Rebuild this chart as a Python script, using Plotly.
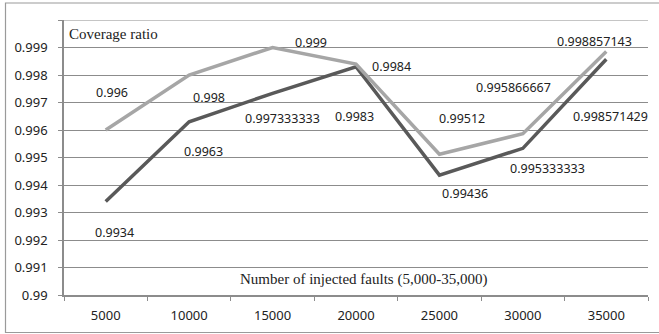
import plotly.graph_objects as go

categories = ["5000", "10000", "15000", "20000", "25000", "30000", "35000"]
light_values = [0.996, 0.998, 0.999, 0.9984, 0.99512, 0.995866667, 0.998857143]
dark_values = [0.9934, 0.9963, 0.997333333, 0.9983, 0.99436, 0.995333333, 0.998571429]
light_labels = ["0.996", "0.998", "0.999", "0.9984", "0.99512", "0.995866667", "0.998857143"]
dark_labels = ["0.9934", "0.9963", "0.997333333", "0.9983", "0.99436", "0.995333333", "0.998571429"]
y_tick_values = [0.99, 0.991, 0.992, 0.993, 0.994, 0.995, 0.996, 0.997, 0.998, 0.999, 1.0]
y_tick_labels = ["0.99", "0.991", "0.992", "0.993", "0.994", "0.995", "0.996", "0.997", "0.998", "0.999", ""]

# label offsets (pixels) mimicking the original label placement
light_shift = [(6, 38), (20, -22), (38, 5), (35, -2), (23, 36), (-9, 46), (-12, 10)]
dark_shift = [(9, -31), (14, -30), (10, -25), (-2, -50), (26, -18), (25, -20), (4, -57)]

LIGHT = "#a6a6a6"
DARK = "#595959"
GRID = "#8c8c8c"

fig = go.Figure()
fig.add_trace(go.Scatter(x=categories, y=dark_values, mode="lines",
                         line=dict(color=DARK, width=3.5), hoverinfo="skip"))
fig.add_trace(go.Scatter(x=categories, y=light_values, mode="lines",
                         line=dict(color=LIGHT, width=3.5), hoverinfo="skip"))

label_font = dict(family="Noto Sans, sans-serif", size=12.5, color="#222222")
for i, (v, t, (dx, dy)) in enumerate(zip(light_values, light_labels, light_shift)):
    fig.add_annotation(x=i, y=v, text=t, showarrow=False, xshift=dx, yshift=dy, font=label_font)
for i, (v, t, (dx, dy)) in enumerate(zip(dark_values, dark_labels, dark_shift)):
    fig.add_annotation(x=i, y=v, text=t, showarrow=False, xshift=dx, yshift=dy, font=label_font)

serif = dict(family="Liberation Serif, serif", size=15, color="#222222")
fig.add_annotation(xref="paper", yref="paper", x=0.005, y=0.95, xanchor="left", yanchor="middle",
                   text="Coverage ratio", showarrow=False, font=serif)
fig.add_annotation(xref="paper", yref="paper", x=0.513, y=0.055, xanchor="center", yanchor="middle",
                   text="Number of injected faults (5,000-35,000)", showarrow=False, font=serif)

# top gridline at 1.0
fig.add_shape(type="line", xref="paper", yref="y", x0=0, x1=1, y0=1.0, y1=1.0,
              line=dict(color=GRID, width=1), layer="below")

# outer chart border (right side falls outside the image, as in the reference)
fig.add_shape(type="rect", xref="paper", yref="paper",
              x0=(5.5 - 64) / 584, x1=(662 - 64) / 584, y0=(295 - 332.5) / 275, y1=(295 - 3) / 275,
              line=dict(color="#9a9a9a", width=1.2), fillcolor="rgba(0,0,0,0)", layer="below")

fig.update_layout(
    width=659, height=334,
    margin=dict(l=64, r=11, t=20, b=39),
    paper_bgcolor="white", plot_bgcolor="white",
    showlegend=False,
    font=dict(family="Noto Sans, sans-serif", size=13, color="#222222"),
)
fig.update_xaxes(type="category", tickson="boundaries", ticks="outside", ticklen=4,
                 tickcolor=GRID, showgrid=False, showline=True, linecolor=GRID,
                 linewidth=1.5, range=[-0.5, 6.5], ticklabelstandoff=8, tickfont=dict(size=13))
fig.update_yaxes(range=[0.99, 1.0], tickvals=y_tick_values, ticktext=y_tick_labels,
                 ticks="outside", ticklen=4, tickcolor=GRID, showgrid=True,
                 gridcolor=GRID, gridwidth=1, showline=True, linecolor=GRID,
                 linewidth=1.5, zeroline=False, ticklabelstandoff=8, tickfont=dict(size=13))

fig.write_html("out.html")
